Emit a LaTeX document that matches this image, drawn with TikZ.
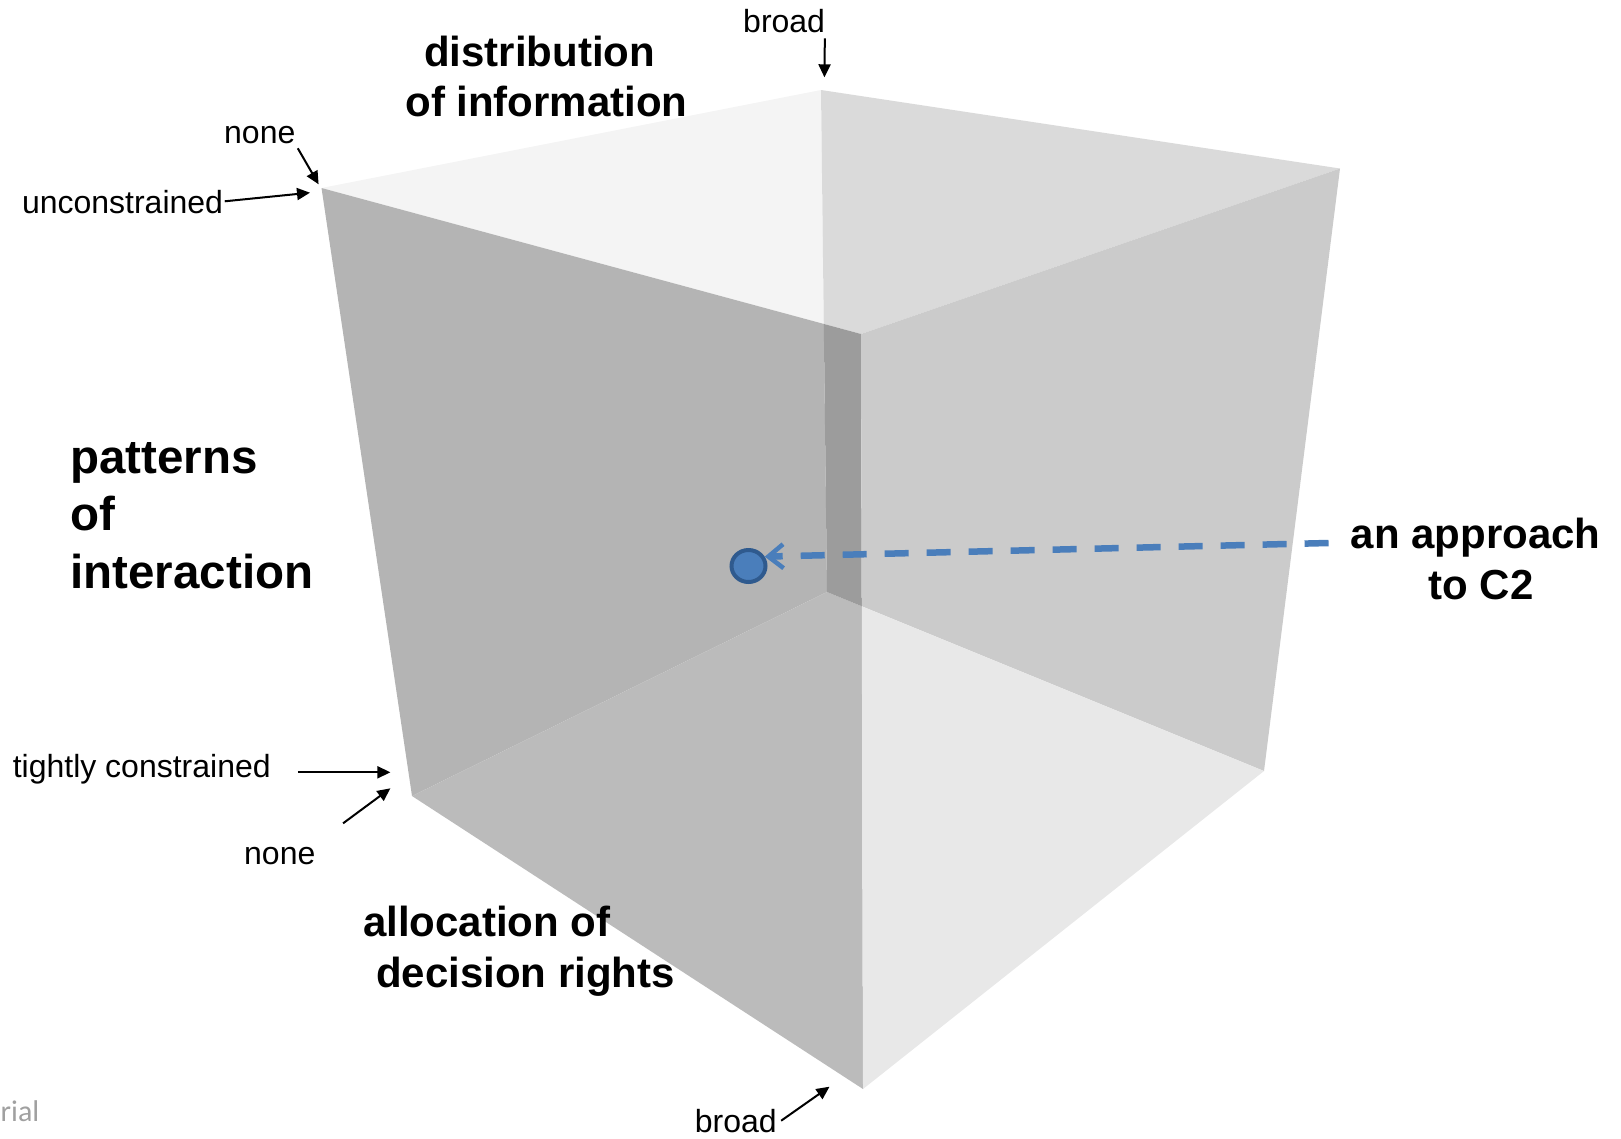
\documentclass[tikz,border=0pt]{standalone}
\usepackage{fontspec}
\setmainfont{Liberation Sans}
\newfontfamily\notefont{Carlito}
\usetikzlibrary{arrows.meta,calc,shapes.geometric}

% face shades of the translucent cube
\definecolor{topL}{HTML}{F4F4F4}
\definecolor{topR}{HTML}{DADADA}
\definecolor{leftU}{HTML}{B4B4B4}
\definecolor{leftL}{HTML}{BBBBBB}
\definecolor{edgeStrip}{HTML}{9C9C9C}
\definecolor{rightU}{HTML}{CBCBCB}
\definecolor{rightL}{HTML}{E8E8E8}
\definecolor{c2blue}{HTML}{4A7EBB}
\definecolor{c2edge}{HTML}{2F5A8E}
\definecolor{notegray}{HTML}{A0A0A0}

\begin{document}
\begin{tikzpicture}[x=1pt,y=-1pt,
  small/.style={inner sep=0pt, font=\fontsize{32}{38}\selectfont},
  axislabel/.style={inner sep=0pt, font=\bfseries\fontsize{42}{50}\selectfont},
  biglabel/.style={inner sep=0pt, font=\bfseries\fontsize{47.5}{57}\selectfont},
  pointer/.style={line width=2pt, -{Triangle[length=13pt,width=12pt]}},
  c2dot/.style={ellipse, draw=c2edge, fill=c2blue, line width=4pt,
    minimum width=34pt, minimum height=32pt, inner sep=0pt},
]
\useasboundingbox (0,0) rectangle (1621,1138);

% cube corners
\coordinate (A) at (321.5,188);
\coordinate (B) at (821,90);
\coordinate (C) at (1340,168.5);
\coordinate (D) at (861,334);
\coordinate (E) at (412,796);
\coordinate (F) at (863,1089);
\coordinate (G) at (1264,771);
\coordinate (H) at (827,592);
\coordinate (P) at (intersection of A--D and B--H);
\coordinate (R) at (intersection of H--G and D--F);

% overlapping translucent faces, as seen regions
\fill[topL] (A) -- (B) -- (P) -- cycle;
\fill[topR] (B) -- (C) -- (D) -- (P) -- cycle;
\fill[leftU] (A) -- (P) -- (H) -- (E) -- cycle;
\fill[leftL] (E) -- (H) -- (R) -- (F) -- cycle;
\fill[edgeStrip] (P) -- (D) -- (R) -- (H) -- cycle;
\fill[rightU] (D) -- (C) -- (G) -- (R) -- cycle;
\fill[rightL] (R) -- (G) -- (F) -- cycle;

% axis titles
\node[axislabel, anchor=base] (dist1) at (539.7,66) {distribution};
\node[axislabel, anchor=base] (dist2) at (546.5,116) {of information};
\node[biglabel, anchor=base west] (pat1) at (70.3,473) {patterns};
\node[biglabel, anchor=base west] (pat2) at (70.3,530.5) {of};
\node[biglabel, anchor=base west] (pat3) at (70.3,588) {interaction};
\node[axislabel, anchor=base west] (alloc1) at (362.8,936) {allocation of};
\node[axislabel, anchor=base west] (alloc2) at (376,987) {decision rights};
\node[axislabel, anchor=base] (appr1) at (1475.6,548.7) {an approach};
\node[axislabel, anchor=base] (appr2) at (1481,599.3) {to C2};

% axis end labels
\node[small, anchor=base west] (broadT) at (743,32) {broad};
\node[small, anchor=base west] (noneT) at (224,143.7) {none};
\node[small, anchor=base west] (unc) at (21.8,213) {unconstrained};
\node[small, anchor=base west] (tight) at (12.6,777.3) {tightly constrained};
\node[small, anchor=base west] (noneB) at (244,864.3) {none};
\node[small, anchor=base west] (broadB) at (694.6,1132.5) {broad};
\node[anchor=base west, inner sep=0pt, text=notegray,
  font=\notefont\fontsize{30}{36}\selectfont] (note) at (0.5,1121.7) {rial};

% corner targets of the pointers
\coordinate (tBroadT) at (824.4,77.3);
\coordinate (tNoneT) at (318.6,184.3);
\coordinate (tUnc) at (310,192.7);
\coordinate (tTight) at (390.4,772.3);
\coordinate (tNoneB) at (390.4,788.3);
\coordinate (tBroadB) at (829.5,1086.7);

\draw[pointer] ($(broadT.base east)+(-0.4,6.3)$) -- (tBroadT);
\draw[pointer] ($(noneT.base east)+(2.2,4.6)$) -- (tNoneT);
\draw[pointer] ($(unc.base east)+(1.5,-11.7)$) -- (tUnc);
\draw[pointer] ($(tight.base east)+(27,-5)$) -- (tTight);
\draw[pointer] ($(noneB.base east)+(27.5,-41)$) -- (tNoneB);
\draw[pointer] ($(broadB.base east)+(4.3,-11.8)$) -- (tBroadB);

% the C2 approach as a point in the space
\node[c2dot] (dot) at (748.5,566) {};
\coordinate (dashStart) at ($(appr1.base west)+(-22,-5.7)$);
\draw[c2blue, line width=6.5pt, dash pattern=on 24pt off 18pt,
  -{Straight Barb[length=15pt,width=24pt,line width=4.5pt]}]
  (dashStart) -- (dot.30);
\end{tikzpicture}
\end{document}
